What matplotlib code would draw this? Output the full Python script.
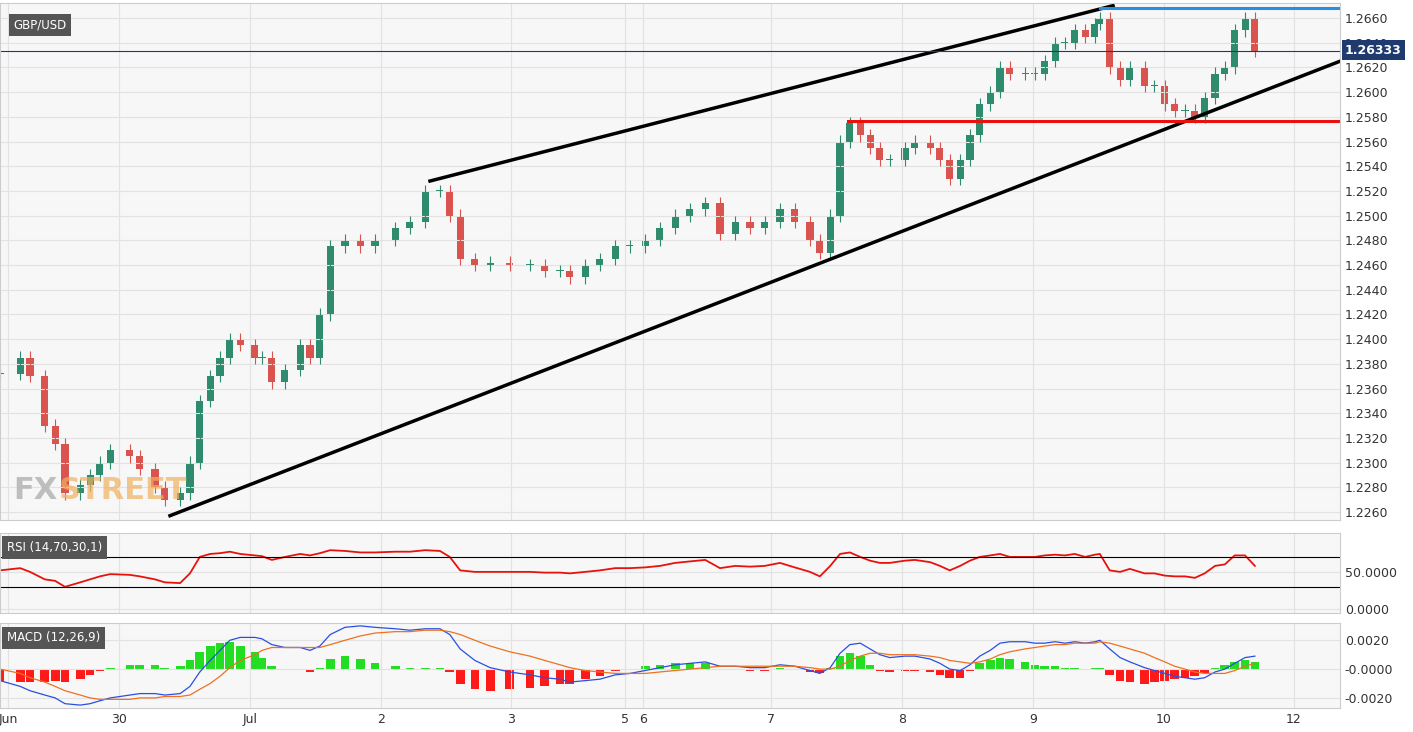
import numpy as np
import matplotlib
matplotlib.use("Agg")
import matplotlib.pyplot as plt

# --- data: chart-hour of each bar (from Jun 29 00:00) and close ---
hours = [2.2, 5.9, 7.7, 10.4, 12.3, 14.1, 16.9, 18.7, 20.5, 22.4,
         26.0, 27.8, 30.6, 32.4, 35.2, 37.0, 38.8, 40.7, 42.5, 44.3,
         46.2, 48.9, 50.2, 52.0, 54.4, 57.2, 59.0, 60.8, 62.7, 65.4,
         68.2, 70.9, 74.6, 77.3, 80.1, 82.8, 84.6, 86.5, 89.2, 92.0,
         95.6, 99.3, 102.0, 104.8, 106.6, 109.4, 112.1, 114.9, 117.6, 120.4,
         123.1, 125.9, 128.6, 131.4, 134.1, 136.9, 139.6, 142.3, 145.1, 147.8,
         150.6, 152.4, 154.3, 156.1, 157.9, 159.8, 161.6, 163.4, 165.2, 168.0,
         169.8, 172.6, 174.4, 176.2, 178.1, 179.9, 181.7, 183.6, 185.4, 187.2,
         190.0, 191.8, 193.6, 195.5, 197.3, 199.1, 201.0, 202.8, 203.7, 205.5,
         207.4, 209.2, 211.9, 213.7, 215.6, 217.4, 219.3, 221.1, 222.9, 224.8,
         226.6, 228.4, 230.3, 232.1]
closes = [1.2372, 1.2385, 1.2370, 1.2330, 1.2315, 1.2275, 1.2282, 1.2290, 1.2300, 1.2310,
          1.2305, 1.2295, 1.2280, 1.2270, 1.2275, 1.2300, 1.2350, 1.2370, 1.2385, 1.2400,
          1.2395, 1.2385, 1.2385, 1.2365, 1.2375, 1.2395, 1.2385, 1.2420, 1.2475, 1.2480,
          1.2475, 1.2480, 1.2490, 1.2495, 1.2520, 1.2520, 1.2500, 1.2465, 1.2460, 1.2462,
          1.2460, 1.2460, 1.2455, 1.2455, 1.2450, 1.2460, 1.2465, 1.2475, 1.2475, 1.2480,
          1.2490, 1.2500, 1.2505, 1.2510, 1.2485, 1.2495, 1.2490, 1.2495, 1.2505, 1.2495,
          1.2480, 1.2470, 1.2500, 1.2560, 1.2575, 1.2565, 1.2555, 1.2545, 1.2545, 1.2555,
          1.2560, 1.2555, 1.2545, 1.2530, 1.2545, 1.2565, 1.2590, 1.2600, 1.2620, 1.2615,
          1.2615, 1.2615, 1.2625, 1.2640, 1.2640, 1.2650, 1.2645, 1.2655, 1.2660, 1.2620,
          1.2610, 1.2620, 1.2605, 1.2605, 1.2590, 1.2585, 1.2585, 1.2580, 1.2595, 1.2615,
          1.2620, 1.2650, 1.2660, 1.26333]
rsi = [52, 55, 50, 40, 38, 30, 36, 40, 44, 47, 46, 44, 40, 36, 35, 48, 70, 74, 75, 77,
       74, 72, 71, 66, 70, 74, 72, 75, 79, 78, 76, 76, 77, 77, 79, 78, 70, 52, 50, 50,
       50, 50, 49, 49, 48, 50, 52, 55, 55, 56, 58, 62, 64, 66, 55, 58, 57, 58, 62, 56,
       50, 44, 58, 74, 76, 70, 65, 62, 62, 65, 66, 63, 58, 52, 58, 65, 70, 72, 74, 70,
       70, 70, 72, 73, 72, 74, 70, 73, 74, 52, 50, 54, 48, 48, 45, 44, 44, 42, 48, 58,
       60, 72, 72, 58]
macd = [-0.0008, -0.0012, -0.0015, -0.0018, -0.0020, -0.0024, -0.0025, -0.0024, -0.0022, -0.0020,
        -0.0018, -0.0017, -0.0017, -0.0018, -0.0017, -0.0012, -0.0002, 0.0006, 0.0013, 0.0020,
        0.0022, 0.0022, 0.0021, 0.0017, 0.0015, 0.0015, 0.0013, 0.0016, 0.0024, 0.0029,
        0.0030, 0.0029, 0.0028, 0.0027, 0.0028, 0.0028, 0.0024, 0.0014, 0.0006, 0.0001,
        -0.0002, -0.0004, -0.0006, -0.0007, -0.0009, -0.0008, -0.0007, -0.0004, -0.0003, -0.0001,
        0.0001, 0.0003, 0.0004, 0.0005, 0.0002, 0.0002, 0.0001, 0.0001, 0.0003, 0.0002,
        -0.0001, -0.0003, 0.0001, 0.0011, 0.0017, 0.0018, 0.0014, 0.0010, 0.0008, 0.0009,
        0.0009, 0.0007, 0.0004, 0.0000, -0.0001, 0.0003, 0.0009, 0.0013, 0.0018, 0.0019,
        0.0019, 0.0018, 0.0018, 0.0019, 0.0018, 0.0019, 0.0018, 0.0019, 0.0020, 0.0014,
        0.0008, 0.0005, 0.0001, -0.0001, -0.0003, -0.0005, -0.0006, -0.0007, -0.0006, -0.0002,
        0.0000, 0.0004, 0.0008, 0.0009]
signal = [0.0000, -0.0003, -0.0006, -0.0009, -0.0012, -0.0015, -0.0018, -0.0020, -0.0021, -0.0021,
          -0.0021, -0.0020, -0.0020, -0.0019, -0.0019, -0.0018, -0.0014, -0.0010, -0.0005, 0.0001,
          0.0006, 0.0010, 0.0013, 0.0015, 0.0015, 0.0015, 0.0015, 0.0015, 0.0017, 0.0020,
          0.0023, 0.0025, 0.0026, 0.0026, 0.0027, 0.0027, 0.0026, 0.0024, 0.0020, 0.0016,
          0.0012, 0.0009, 0.0006, 0.0003, 0.0001, -0.0001, -0.0002, -0.0003, -0.0003, -0.0003,
          -0.0002, -0.0001, 0.0000, 0.0001, 0.0002, 0.0002, 0.0002, 0.0002, 0.0002, 0.0002,
          0.0001, 0.0000, 0.0000, 0.0002, 0.0006, 0.0009, 0.0011, 0.0011, 0.0010, 0.0010,
          0.0010, 0.0009, 0.0008, 0.0006, 0.0005, 0.0004, 0.0005, 0.0007, 0.0010, 0.0012,
          0.0014, 0.0015, 0.0016, 0.0017, 0.0017, 0.0018, 0.0018, 0.0018, 0.0019, 0.0018,
          0.0016, 0.0014, 0.0011, 0.0008, 0.0005, 0.0002, 0.0000, -0.0002, -0.0003, -0.0003,
          -0.0003, -0.0001, 0.0002, 0.0004]
day_labels = ["Jun", "30", "Jul", "2", "3", "5", "6", "7", "8", "9", "10", "12"]
day_px = [8, 119, 250, 381, 511, 625, 643, 771, 902, 1033, 1164, 1294]

def px2h(px):
    return (px + 12) * 24 / 131

N = len(closes)
opens = [closes[0]] + closes[:-1]
x = np.array(hours)
xmax = px2h(1340)

W, H = 1413, 732
fig = plt.figure(figsize=(W / 100, H / 100), dpi=100, facecolor="white")
def box(top, bot):
    return [0, (H - bot) / H, 1340 / W, (bot - top) / H]
ax = fig.add_axes(box(3, 520))
ar = fig.add_axes(box(533, 613), sharex=ax)
am = fig.add_axes(box(623, 708), sharex=ax)

for a in (ax, ar, am):
    a.set_facecolor("#f7f7f7")
    a.grid(True, color="#e2e2e2", lw=0.8)
    a.yaxis.tick_right()
    a.tick_params(labelsize=9, colors="#333333", length=0)
    for s in a.spines.values():
        s.set_color("#cccccc")
    a.set_xlim(px2h(0), xmax)

# candles
up, dn = "#2e8b6e", "#d9534f"
for i in range(N):
    o, c = opens[i], closes[i]
    col = up if c >= o else dn
    ax.vlines(x[i], min(o, c) - 0.0005, max(o, c) + 0.0005, color=col, lw=0.8)
    ax.bar(x[i], max(abs(c - o), 0.00008), bottom=min(o, c), width=1.3, color=col)
ax.set_ylim(1.2260 - (520 - 512) / 12350, 1.2660 + 15 / 12350)
ticks = np.arange(1.2260, 1.2661, 0.0020)
ax.set_yticks(ticks)
ax.set_yticklabels([f"{v:.4f}" for v in ticks])
ax.tick_params(labelbottom=False)

# annotations: wedge lines and levels
ax.plot([px2h(430), px2h(1113)], [1.2528, 1.2670], color="black", lw=2.5)
ax.plot([px2h(170), px2h(1340)], [1.2257, 1.2625], color="black", lw=2.5)
ax.plot([px2h(848), xmax], [1.2577, 1.2577], color="#e8120c", lw=2.2)
ax.plot([px2h(1100), xmax], [1.2668, 1.2668], color="#2a8ee0", lw=2.2)
ax.axhline(1.26333, color="#1f3a6e", lw=0.8)
fig.text(1345 / W, 1 - 50 / H, "1.26333", va="center", fontsize=9, color="white", weight="bold",
         bbox=dict(boxstyle="square,pad=0.25", fc="#1f3a6e", ec="none"), zorder=10)
ax.text(0.01, 0.97, "GBP/USD", transform=ax.transAxes, fontsize=8.5, color="white", va="top",
        bbox=dict(boxstyle="square,pad=0.4", fc="#555555", ec="none"))
ax.text(0.01, 0.04, "FX", transform=ax.transAxes, fontsize=22, color="#b0b0b0", weight="bold", alpha=0.8)
ax.text(0.044, 0.04, "STREET", transform=ax.transAxes, fontsize=22, color="#f0b060", weight="bold", alpha=0.7)

# RSI
ar.plot(x, rsi, color="#e8120c", lw=1.3)
ar.axhline(70, color="black", lw=0.8)
ar.axhline(30, color="black", lw=0.8)
ar.set_ylim(-5, 102)
ar.set_yticks([0, 50])
ar.set_yticklabels(["0.0000", "50.0000"])
ar.tick_params(labelbottom=False)
ar.text(0.005, 0.9, "RSI (14,70,30,1)", transform=ar.transAxes, fontsize=8.5, color="white", va="top",
        bbox=dict(boxstyle="square,pad=0.4", fc="#555555", ec="none"))

# MACD
hist = np.array(macd) - np.array(signal)
am.bar(x, hist, width=1.6, color=np.where(hist >= 0, "#22dd22", "#ff1a1a"))
am.plot(x, macd, color="#2a4fe0", lw=0.9)
am.plot(x, signal, color="#f07020", lw=0.9)
am.set_ylim(-0.0027, 0.0032)
am.set_yticks([-0.002, 0.0, 0.002])
am.set_yticklabels(["-0.0020", "-0.0000", "0.0020"])
am.set_xticks([px2h(p) for p in day_px])
am.set_xticklabels(day_labels)
am.text(0.005, 0.9, "MACD (12,26,9)", transform=am.transAxes, fontsize=8.5, color="white", va="top",
        bbox=dict(boxstyle="square,pad=0.4", fc="#555555", ec="none"))

fig.savefig("out.png", dpi=100)
